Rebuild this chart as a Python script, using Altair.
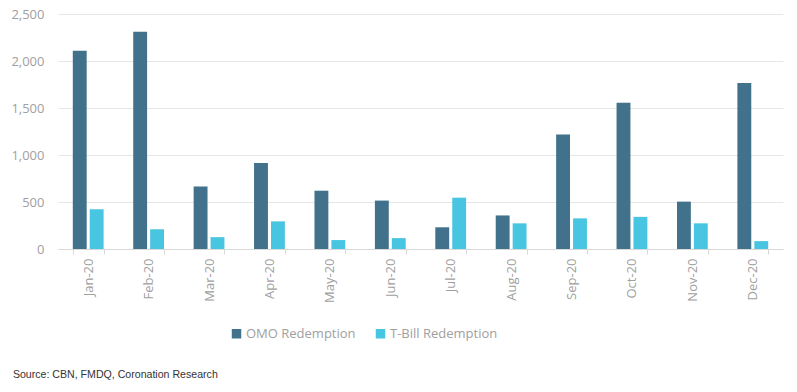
import altair as alt
import pandas as pd

months = ["Jan-20", "Feb-20", "Mar-20", "Apr-20", "May-20", "Jun-20",
          "Jul-20", "Aug-20", "Sep-20", "Oct-20", "Nov-20", "Dec-20"]
omo = [2110, 2310, 665, 915, 620, 515, 231, 357, 1218, 1555, 504, 1765]
tbill = [422, 210, 126, 294, 95, 116, 546, 273, 326, 342, 273, 84]
series = ["OMO Redemption", "T-Bill Redemption"]
colors = ["#41718B", "#48C5E0"]

rows = []
for i, m in enumerate(months):
    rows.append({"month": m, "series": series[0], "value": omo[i]})
    rows.append({"month": m, "series": series[1], "value": tbill[i]})
df = pd.DataFrame(rows)

FONT = "Open Sans"
GRAY = "#a0a0a0"

chart = alt.Chart(df).mark_bar().encode(
    x=alt.X("month:N", sort=months, title=None,
            scale=alt.Scale(paddingInner=0.49, paddingOuter=0.245),
            axis=alt.Axis(labelAngle=-90, labelColor=GRAY, labelFontSize=13,
                          labelFont=FONT, tickBand="extent", tickColor="#d9d9d9",
                          tickSize=5, domainColor="#d9d9d9", labelPadding=4)),
    xOffset=alt.XOffset("series:N", sort=series,
                        scale=alt.Scale(paddingInner=0.18, paddingOuter=0)),
    y=alt.Y("value:Q", title=None,
            scale=alt.Scale(domain=[0, 2500]),
            axis=alt.Axis(values=[0, 500, 1000, 1500, 2000, 2500], format=",.0f",
                          labelColor=GRAY, labelFontSize=13, labelFont=FONT,
                          domain=False, ticks=False, gridColor="#e6e6e6",
                          labelPadding=14)),
    color=alt.Color("series:N", sort=series,
                    scale=alt.Scale(domain=series, range=colors),
                    legend=alt.Legend(orient="none", direction="horizontal",
                                      legendX=172, legendY=313, title=None,
                                      symbolType="square", symbolSize=90,
                                      symbolStrokeWidth=0,
                                      labelColor=GRAY, labelFontSize=13,
                                      labelFont=FONT, columnPadding=18,
                                      labelOffset=3)),
).properties(
    width=725, height=235,
    autosize=alt.AutoSizeParams(type="none"),
    padding={"left": 50, "top": 6, "right": 6, "bottom": 135},
    title=alt.TitleParams("Source: CBN, FMDQ, Coronation Research",
                          orient="bottom", anchor="start", dx=2, offset=29,
                          font="Liberation Sans", fontSize=10.6, fontWeight="normal",
                          color="#333333"),
).configure_view(stroke=None)

chart.save("out.html", embed_options={"renderer": "svg", "actions": False})
